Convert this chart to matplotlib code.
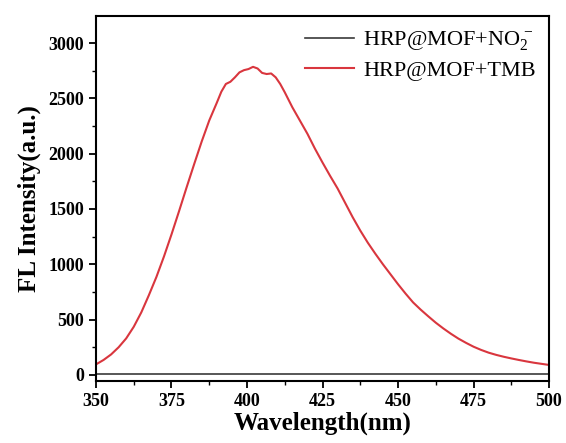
import matplotlib
matplotlib.use("Agg")
import matplotlib.pyplot as plt
from matplotlib.ticker import MultipleLocator

plt.rcParams['font.family'] = ['Liberation Serif', 'DejaVu Serif']
plt.rcParams['mathtext.fontset'] = 'custom'
plt.rcParams['mathtext.rm'] = 'Liberation Serif'
plt.rcParams['mathtext.it'] = 'Liberation Serif:italic'
plt.rcParams['mathtext.bf'] = 'Liberation Serif:bold'

wavelength = [350, 352.5, 355, 357.5, 360, 362.5, 365, 367.5, 370, 372.5,
              375, 377.5, 380, 382.5, 385, 387.5, 390, 391.5, 393, 394.5,
              396, 397.5, 399, 400.5, 402, 403.5, 405, 406.5, 408, 409.5,
              411, 412.5, 415, 417.5, 420, 422.5, 425, 427.5, 430, 432.5,
              435, 437.5, 440, 442.5, 445, 447.5, 450, 452.5, 455, 457.5,
              460, 462.5, 465, 467.5, 470, 472.5, 475, 477.5, 480, 482.5,
              485, 487.5, 490, 492.5, 495, 497.5, 500]
tmb = [95, 135, 185, 250, 330, 435, 565, 720, 885, 1070,
       1270, 1480, 1695, 1905, 2110, 2300, 2460, 2560, 2630, 2650,
       2690, 2735, 2755, 2765, 2785, 2770, 2730, 2720, 2725, 2690,
       2630, 2555, 2420, 2300, 2180, 2045, 1920, 1800, 1685, 1555,
       1425, 1305, 1195, 1095, 1000, 910, 820, 735, 655, 590,
       530, 472, 420, 372, 328, 290, 255, 226, 201, 181,
       164, 149, 135, 122, 110, 100, 90]
no2 = [5] * len(wavelength)

label_no2 = r'HRP@MOF+NO$_2^{\,-}$'
label_tmb = 'HRP@MOF+TMB'

fig = plt.figure(figsize=(5.66, 4.43), dpi=100)
ax = fig.add_axes([0.1696, 0.140, 0.8004, 0.824])

ax.plot(wavelength, no2, color='#3a3a3a', lw=1.2, label=label_no2)
ax.plot(wavelength, tmb, color='#d9363e', lw=1.5, label=label_tmb)

ax.set_xlim(350, 500)
ax.set_ylim(-55, 3245)
ax.xaxis.set_major_locator(MultipleLocator(25))
ax.xaxis.set_minor_locator(MultipleLocator(12.5))
ax.yaxis.set_major_locator(MultipleLocator(500))
ax.yaxis.set_minor_locator(MultipleLocator(250))
ax.tick_params(which='major', direction='out', length=5, width=1.3, labelsize=13)
ax.tick_params(which='minor', direction='out', length=3, width=1.0)
ax.tick_params(top=False, right=False, which='both')
for lbl in ax.get_xticklabels() + ax.get_yticklabels():
    lbl.set_fontweight('bold')
for s in ax.spines.values():
    s.set_linewidth(1.5)

ax.set_xlabel('Wavelength(nm)', fontsize=18, fontweight='bold', labelpad=1)
ax.set_ylabel('FL Intensity(a.u.)', fontsize=18, fontweight='bold', labelpad=5)

leg = ax.legend(loc='upper right', frameon=False, fontsize=16,
                handlelength=2.2, labelspacing=0.35, borderaxespad=0.2,
                handletextpad=0.4)

fig.savefig('out.png', dpi=100)
